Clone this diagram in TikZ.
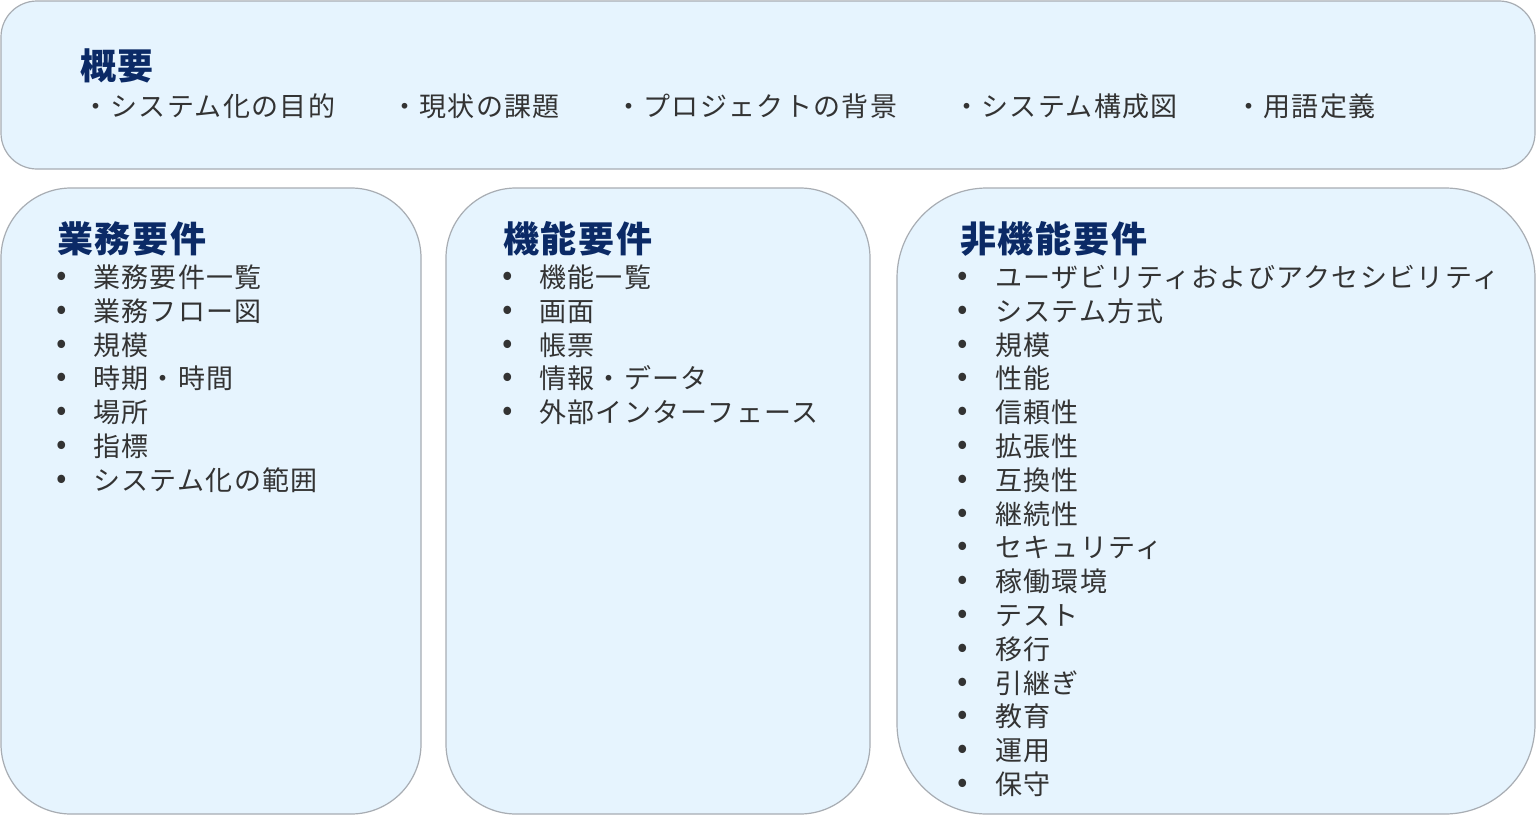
\documentclass[tikz,border=0pt]{standalone}
\usepackage{fontspec}
\setmainfont{Noto Sans CJK JP}[LetterSpace=5]
\definecolor{boxfill}{HTML}{E6F4FE}
\definecolor{boxline}{HTML}{A8ADB3}
\definecolor{headblue}{HTML}{0B2A66}
\definecolor{itemgray}{HTML}{333333}
\begin{document}
\begin{tikzpicture}[x=1pt,y=-1pt,
  panel/.style={draw=boxline, line width=1.2pt, fill=boxfill},
  head/.style={anchor=base west, inner sep=0pt, text=headblue, font=\fontsize{36}{40}\selectfont\bfseries},
  item/.style={anchor=base west, inner sep=0pt, text=itemgray, font=\fontsize{27}{33}\selectfont},
  dot/.style={anchor=base, inner sep=0pt, text height=6pt, text depth=0pt, text=itemgray, font=\fontsize{31}{33}\selectfont}]
\useasboundingbox (0,0) rectangle (1536,819);
\fill [white] (0,0) rectangle (1536,819);
% panels
\draw [panel, rounded corners=36] (1,1) rectangle (1535,169);
\draw [panel, rounded corners=70] (1,188) rectangle (421,814);
\draw [panel, rounded corners=70] (446,188) rectangle (870,814);
\draw [panel, rounded corners=90] (897,188) rectangle (1535,814);
% overview
\node [head] (gaiyo) at (80,79) {概要};
\foreach \x/\t [count=\i] in {82/・システム化の目的, 391/・現状の課題, 615/・プロジェクトの背景, 953/・システム構成図, 1235/・用語定義}
  \node [item] (top\i) at (\x,116) {\t};
% business requirements
\node [head] (gyomu) at (57,252) {業務要件};
\foreach \t [count=\i] in {業務要件一覧, 業務フロー図, 規模, 時期・時間, 場所, 指標, システム化の範囲} {
  \node [dot] (gd\i) at (62,{285.5+(\i-1)*33.8}) {•};
  \node [item] (gi\i) at (93,{287.5+(\i-1)*33.8}) {\t};
}
% functional requirements
\node [head] (kino) at (503,252) {機能要件};
\foreach \t [count=\i] in {機能一覧, 画面, 帳票, 情報・データ, 外部インターフェース} {
  \node [dot] (kd\i) at (508,{285.5+(\i-1)*33.8}) {•};
  \node [item] (ki\i) at (539,{287.5+(\i-1)*33.8}) {\t};
}
% non-functional requirements
\node [head] (hikino) at (960,252) {非機能要件};
\foreach \t [count=\i] in {ユーザビリティおよびアクセシビリティ, システム方式, 規模, 性能, 信頼性, 拡張性, 互換性, 継続性, セキュリティ, 稼働環境, テスト, 移行, 引継ぎ, 教育, 運用, 保守} {
  \node [dot] (hd\i) at (963,{285.5+(\i-1)*33.8}) {•};
  \node [item] (hi\i) at (995,{287.5+(\i-1)*33.8}) {\t};
}
\end{tikzpicture}
\end{document}
